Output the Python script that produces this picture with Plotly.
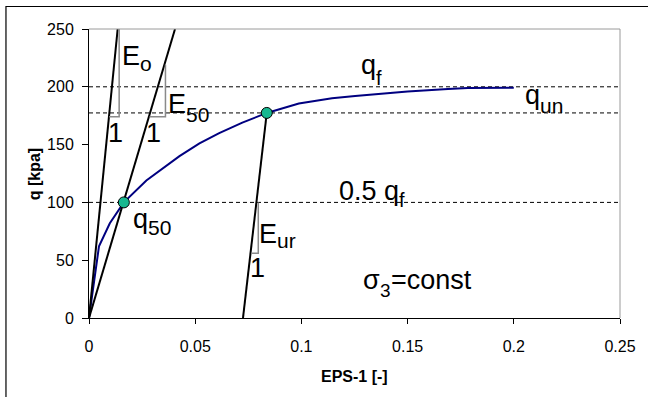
import plotly.graph_objects as go

# ---------------- data ----------------
eps_curve = [0, 0.0047, 0.0098, 0.0164, 0.027, 0.0364, 0.0426, 0.052, 0.0613,
             0.0722, 0.0837, 0.0988, 0.1144, 0.1253, 0.1362, 0.15, 0.169, 0.1784, 0.2]
q_curve = [0, 62, 82, 100, 119, 132, 140, 151, 160,
           169, 177.4, 185.5, 190, 192, 194, 196, 198, 199, 199.2]

ref_x = [0, 0.25]
q_f = 200
q_un = 177.4
half_q_f = 100

E0_eps = [0, 0.0135]
E0_q = [0, 250]
E50_eps = [0, 0.0405]
E50_q = [0, 250]
Eur_eps = [0.0725, 0.0837]
Eur_q = [0, 177.4]

tri_E0_eps = [0.0095, 0.0142, 0.0142]
tri_E0_q = [174, 174, 250]
tri_E50_eps = [0.0285, 0.036, 0.036]
tri_E50_q = [174, 174, 219]
tri_Eur_eps = [0.0764, 0.0797, 0.0797]
tri_Eur_q = [56, 56, 100]

pt_eps = [0.0164, 0.0837]
pt_q = [100, 177.4]

x_tickvals = [0, 0.05, 0.1, 0.15, 0.2, 0.25]
x_ticktext = ["0", "0.05", "0.1", "0.15", "0.2", "0.25"]
y_tickvals = [0, 50, 100, 150, 200, 250]
y_ticktext = ["0", "50", "100", "150", "200", "250"]

# ---------------- layout geometry ----------------
W, H = 648, 397
L, R, T, B = 89, 25, 29, 79
PW, PH = W - L - R, H - T - B
XMAX, YMAX = 0.25, 250

def dx(px):
    return (px - L) / PW * XMAX

def dy(py):
    return (H - B - py) / PH * YMAX

FONT = "Arial, 'Liberation Sans', sans-serif"

fig = go.Figure()

dash_style = dict(color="black", width=1, dash="4px,3px")
for lvl in [q_f, q_un, half_q_f]:
    fig.add_trace(go.Scatter(x=ref_x, y=[lvl, lvl], mode="lines", line=dash_style,
                             hoverinfo="skip", showlegend=False))

fig.add_trace(go.Scatter(x=eps_curve, y=q_curve, mode="lines",
                         line=dict(color="#000080", width=2), showlegend=False))

for ex, qy in [(E0_eps, E0_q), (E50_eps, E50_q), (Eur_eps, Eur_q)]:
    fig.add_trace(go.Scatter(x=ex, y=qy, mode="lines",
                             line=dict(color="black", width=2), showlegend=False))

for ex, qy in [(tri_E0_eps, tri_E0_q), (tri_E50_eps, tri_E50_q), (tri_Eur_eps, tri_Eur_q)]:
    fig.add_trace(go.Scatter(x=ex, y=qy, mode="lines",
                             line=dict(color="#8a8a8a", width=1.5), showlegend=False))

fig.add_trace(go.Scatter(x=pt_eps, y=pt_q, mode="markers",
                         marker=dict(color="#17b890", size=11,
                                     line=dict(color="black", width=1)),
                         showlegend=False))

# ---------------- labels ----------------
annotations = []

def label(txt, x_px, base, size, anchor):
    annotations.append(dict(x=dx(x_px), y=dy(base - 0.35 * size), xref="x", yref="y",
                            text=txt, showarrow=False, xanchor=anchor, yanchor="middle",
                            borderpad=0, borderwidth=0,
                            font=dict(family=FONT, size=size, color="black")))

# (main text, sub text, joint x px, main baseline, sub baseline)
pairs = [
    ("E", "o", 140, 65, 70.5),
    ("E", "50", 186.5, 113, 121.7),
    ("q", "f", 378, 74, 85),
    ("q", "un", 542.5, 104.7, 113.3),
    ("q", "50", 148, 228.4, 235),
    ("0.5 q", "f", 400.5, 200, 206.7),
    ("E", "ur", 278, 243, 248.3),
]
for main, sub, jx, mb, sb in pairs:
    label(main, jx, mb, 27, "right")
    label(sub, jx, sb, 21 if sub != "f" else 20, "left")

# slope "1" marks
for lx, base in [(108, 142), (146, 142), (251, 277)]:
    label("1", lx, base, 27, "left")

# sigma_3 = const
label("σ", 382, 289.3, 27, "right")
label("3", 382, 296.7, 19, "left")
label("=const", 392.5, 289, 27, "left")

annotations.append(dict(x=0.5, y=(H - B - 376.5) / PH, xref="paper", yref="paper",
                        text="<b>EPS-1 [-]</b>", showarrow=False,
                        xanchor="center", yanchor="middle",
                        font=dict(family=FONT, size=16, color="black")))
annotations.append(dict(x=(34 - L) / PW, y=(H - B - 174) / PH, xref="paper", yref="paper",
                        text="<b>q [kpa]</b>", showarrow=False, textangle=-90,
                        xanchor="center", yanchor="middle",
                        font=dict(family=FONT, size=16, color="black")))

shapes = [
    # plot-area border (grey, top & right)
    dict(type="line", xref="paper", yref="paper", x0=0, x1=1, y0=1, y1=1,
         line=dict(color="#9a9a9a", width=1)),
    dict(type="line", xref="paper", yref="paper", x0=1, x1=1, y0=0, y1=1,
         line=dict(color="#9a9a9a", width=1)),
    # outer chart frame (right and bottom edges lie outside the picture)
    dict(type="rect", xref="paper", yref="paper",
         x0=(5.5 - L) / PW, x1=(660 - L) / PW,
         y0=(H - B - 410) / PH, y1=(H - B - 6.5) / PH,
         line=dict(color="black", width=1.2), layer="below"),
]

fig.update_layout(
    width=W, height=H,
    margin=dict(l=L, r=R, t=T, b=B),
    paper_bgcolor="white", plot_bgcolor="white",
    showlegend=False,
    font=dict(family=FONT, color="black"),
    annotations=annotations,
    shapes=shapes,
    xaxis=dict(range=[0, XMAX], tickvals=x_tickvals, ticktext=x_ticktext,
               showgrid=False, zeroline=False, showline=True, linecolor="black",
               linewidth=1, ticks="outside", ticklen=5, tickcolor="black",
               tickfont=dict(family=FONT, size=16, color="black"),
               ticklabelstandoff=9, fixedrange=True),
    yaxis=dict(range=[0, YMAX], tickvals=y_tickvals, ticktext=y_ticktext,
               showgrid=False, zeroline=False, showline=True, linecolor="black",
               linewidth=1, ticks="outside", ticklen=6, tickcolor="black",
               tickfont=dict(family=FONT, size=16, color="black"),
               ticklabelstandoff=5, fixedrange=True),
)

fig.write_html("out.html", config={"displayModeBar": False})
